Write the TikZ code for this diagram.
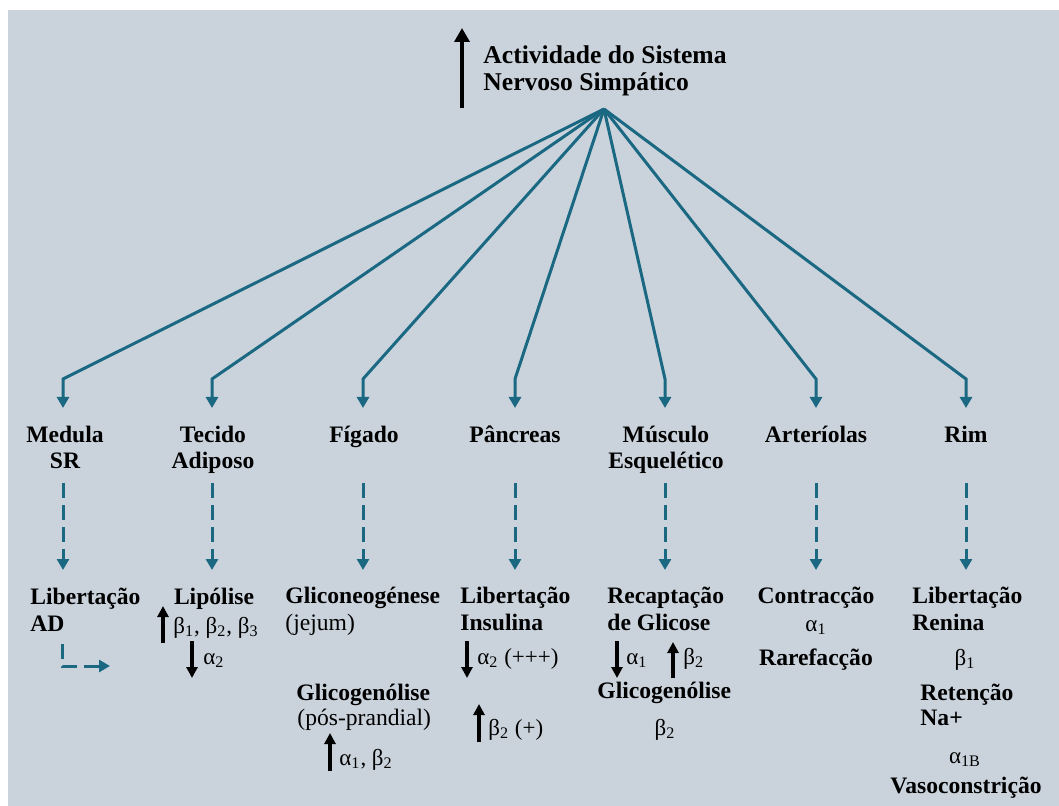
\documentclass[tikz,border=0pt]{standalone}
\usepackage{fontspec}
\setmainfont{Liberation Serif}
\usetikzlibrary{arrows.meta}
\definecolor{bgc}{HTML}{CAD3DC}
\definecolor{tealc}{HTML}{1A6882}
\tikzset{
  lbl/.style={font=\bfseries\fontsize{11.8}{13}\selectfont, inner sep=0pt, text=black},
  ttl/.style={font=\bfseries\fontsize{12.8}{14}\selectfont, inner sep=0pt, anchor=base west},
  reg/.style={font=\fontsize{11.8}{13}\selectfont, inner sep=0pt},
  grk/.style={font=\fontsize{11.5}{13}\selectfont, inner sep=0pt},
  tline/.style={draw=tealc, line width=1.5pt, -{Triangle[width=6pt,length=5.5pt]}},
  tdash/.style={draw=tealc, line width=1.5pt, dash pattern=on 7.5pt off 3.5pt, -{Triangle[width=6pt,length=5.5pt]}},
  barrow/.style={draw=black, line width=1.6pt, -{Triangle[width=5.5pt,length=5.5pt]}},
  bigarrow/.style={draw=black, line width=2.4pt, -{Triangle[width=7.5pt,length=7pt]}},
}
\begin{document}
\begin{tikzpicture}[x=0.5pt,y=-0.5pt]
\useasboundingbox (0,0) rectangle (1059,806);
\fill[white] (0,0) rectangle (1059,806);
\fill[bgc] (8,10) rectangle (1059,806);

% title
\coordinate (tA) at (462,108);
\coordinate (tB) at (462,28);
\draw[bigarrow] (tA) -- (tB);
\node[ttl] (t1) at (483,64) {Actividade do Sistema};
\node[ttl] (t2) at (483,91) {Nervoso Simpático};
\coordinate (src) at (604,109);

% columns
\foreach \n/\x in {1/63,2/212,3/363,4/515,5/665,6/816,7/966}{
  \coordinate (k\n) at (\x,379);
  \coordinate (a\n) at (\x,408);
  \draw[tline] (src) -- (k\n) -- (a\n);
  \coordinate (ds\n) at (\x,483);
  \coordinate (de\n) at (\x,570);
  \draw[tdash] (ds\n) -- (de\n);
}

% column labels
\node[lbl, anchor=base] (m1) at (65,443) {Medula};
\node[lbl, anchor=base] (m2) at (65,469) {SR};
\node[lbl, anchor=base] (ta1) at (213,443) {Tecido};
\node[lbl, anchor=base] (ta2) at (213,469) {Adiposo};
\node[lbl, anchor=base] (fg) at (364,443) {Fígado};
\node[lbl, anchor=base] (pc) at (515,443) {Pâncreas};
\node[lbl, anchor=base] (me1) at (666,443) {Músculo};
\node[lbl, anchor=base] (me2) at (666,469) {Esquelético};
\node[lbl, anchor=base] (ar) at (816,443) {Arteríolas};
\node[lbl, anchor=base] (rm) at (966,443) {Rim};

% Medula SR
\node[lbl, anchor=base west] (lad1) at (30,604) {Libertação};
\node[lbl, anchor=base west] (lad2) at (30,631) {AD};
\coordinate (l1) at (62,644);
\coordinate (l2) at (62,666);
\coordinate (l3) at (110,666);
\draw[tdash] (l1) -- (l2) -- (l3);

% Tecido adiposo
\node[lbl, anchor=base] (lip) at (214,604) {Lipólise};
\coordinate (u1a) at (163,643);
\coordinate (u1b) at (163,606);
\draw[barrow] (u1a) -- (u1b);
\node[grk, anchor=base west] (lipb) at (173,633) {β\textsubscript{1}, β\textsubscript{2}, β\textsubscript{3}};
\coordinate (d1a) at (192,641);
\coordinate (d1b) at (192,678);
\draw[barrow] (d1a) -- (d1b);
\node[grk, anchor=base west] (lipa) at (203,664) {α\textsubscript{2}};

% Figado
\node[lbl, anchor=base west] (gng) at (285,603) {Gliconeogénese};
\node[reg, anchor=base west] (jej) at (285,630) {(jejum)};
\node[lbl, anchor=base west] (ggl) at (296,700) {Glicogenólise};
\node[reg, anchor=base west] (pp) at (297,725) {(pós-prandial)};
\coordinate (u2a) at (330,771);
\coordinate (u2b) at (330,733);
\draw[barrow] (u2a) -- (u2b);
\node[grk, anchor=base west] (fgr) at (339,765) {α\textsubscript{1}, β\textsubscript{2}};

% Pancreas
\node[lbl, anchor=base west] (li1) at (460,603) {Libertação};
\node[lbl, anchor=base west] (li2) at (460,630) {Insulina};
\coordinate (d3a) at (467,641);
\coordinate (d3b) at (467,678);
\draw[barrow] (d3a) -- (d3b);
\node[grk, anchor=base west] (pa) at (477,664) {α\textsubscript{2} (+++)};
\coordinate (u3a) at (479,742);
\coordinate (u3b) at (479,704);
\draw[barrow] (u3a) -- (u3b);
\node[grk, anchor=base west] (pb) at (488,735) {β\textsubscript{2} (+)};

% Musculo
\node[lbl, anchor=base west] (rc1) at (607,603) {Recaptação};
\node[lbl, anchor=base west] (rc2) at (607,630) {de Glicose};
\coordinate (d4a) at (617,641);
\coordinate (d4b) at (617,678);
\draw[barrow] (d4a) -- (d4b);
\node[grk, anchor=base west] (ma) at (626,664) {α\textsubscript{1}};
\coordinate (u4a) at (673,678);
\coordinate (u4b) at (673,642);
\draw[barrow] (u4a) -- (u4b);
\node[grk, anchor=base west] (mb) at (683,664) {β\textsubscript{2}};
\node[lbl, anchor=base west] (mg) at (597,698) {Glicogenólise};
\node[grk, anchor=base] (mb2) at (665,735) {β\textsubscript{2}};

% Arteriolas
\node[lbl, anchor=base] (ct) at (816,603) {Contracção};
\node[grk, anchor=base] (ca) at (816,631) {α\textsubscript{1}};
\node[lbl, anchor=base] (rf) at (816,665) {Rarefacção};

% Rim
\node[lbl, anchor=base west] (lr1) at (912,603) {Libertação};
\node[lbl, anchor=base west] (lr2) at (912,630) {Renina};
\node[grk, anchor=base] (rb) at (965,665) {β\textsubscript{1}};
\node[lbl, anchor=base west] (rt1) at (920,700) {Retenção};
\node[lbl, anchor=base west] (rt2) at (920,725) {Na+};
\node[grk, anchor=base] (ra) at (965,763) {α\textsubscript{1B}};
\node[lbl, anchor=base] (vc) at (966,793) {Vasoconstrição};
\end{tikzpicture}
\end{document}
